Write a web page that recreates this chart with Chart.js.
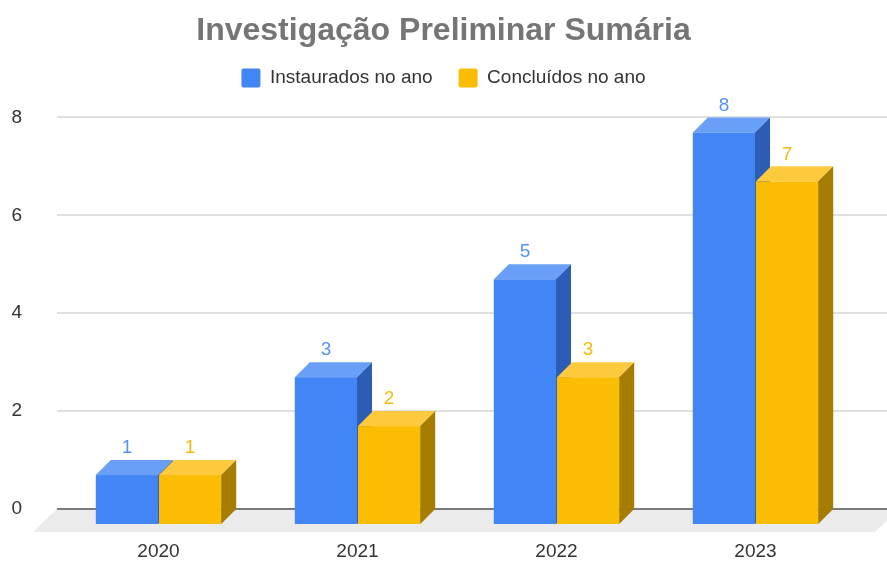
<!DOCTYPE html>
<html>
<head>
<meta charset="utf-8">
<script src="https://cdn.jsdelivr.net/npm/chart.js@4.4.1/dist/chart.umd.min.js"></script>
<style>
  html, body { margin: 0; padding: 0; background: #fff; }
  #grafico { display: block; }
</style>
</head>
<body>
<canvas id="grafico" width="887" height="562"></canvas>
<script>
// datos del grafico
const anos = ['2020', '2021', '2022', '2023']
const instaurados = [1, 3, 5, 8]
const concluidos = [1, 2, 3, 7]
const ticksY = [0, 2, 4, 6, 8]

const PROF = 15 // profundidad del efecto 3D
const FUENTE = '"Liberation Sans", Arial, sans-serif'

// colores: frente, tapa, lado, etiqueta
const coresAzul = { frente: '#4285f4', tapa: '#6a9ff7', lado: '#2d5cb5', texto: '#5592f5' }
const coresAmarelo = { frente: '#fbbc04', tapa: '#fcca3c', lado: '#a67c02', texto: '#f7b90a' }
const coresPorDataset = [coresAzul, coresAmarelo]

// espacio extra debajo de la leyenda
const pluginLeyenda = {
    id: 'espacioLeyenda',
    beforeInit(chart) {
        const fitOriginal = chart.legend.fit
        chart.legend.fit = function () {
            fitOriginal.call(this)
            this.height += 20
        }
    }
}

const plugin3d = {
    id: 'barras3d',
    beforeDatasetsDraw(chart) {
        const ctx = chart.ctx
        const area = chart.chartArea
        const y = chart.scales.y
        const y0 = y.getPixelForValue(0)
        // piso
        ctx.save()
        ctx.fillStyle = '#ebebeb'
        ctx.beginPath()
        ctx.moveTo(area.left - 2, y0)
        ctx.lineTo(chart.width + 12, y0)
        ctx.lineTo(chart.width - 12, y0 + 23)
        ctx.lineTo(area.left - 26, y0 + 23)
        ctx.closePath()
        ctx.fill()
        // lineas de grilla
        ticksY.forEach(v => {
            const py = Math.round(y.getPixelForValue(v))
            ctx.beginPath()
            ctx.moveTo(area.left - 2, py)
            ctx.lineTo(chart.width, py)
            if (v === 0) {
                ctx.strokeStyle = '#7b7b7b'
                ctx.lineWidth = 2
            } else {
                ctx.strokeStyle = '#d6d6d6'
                ctx.lineWidth = 1.5
            }
            ctx.stroke()
        })
        ctx.restore()
    },
    beforeDatasetDraw() {
        return false // las barras se dibujan a mano abajo
    },
    afterDatasetsDraw(chart) {
        const ctx = chart.ctx
        ctx.save()
        anos.forEach((ano, i) => {
            chart.data.datasets.forEach((ds, d) => {
                const el = chart.getDatasetMeta(d).data[i]
                const cores = coresPorDataset[d]
                const w = el.width
                const fl = el.x - w / 2
                const fr = el.x + w / 2
                const ft = el.y + PROF
                const fb = el.base + PROF

                // frente
                ctx.fillStyle = cores.frente
                ctx.fillRect(fl, ft, w, fb - ft)
                // tapa
                ctx.fillStyle = cores.tapa
                ctx.beginPath()
                ctx.moveTo(fl, ft)
                ctx.lineTo(fr, ft)
                ctx.lineTo(fr + PROF, ft - PROF)
                ctx.lineTo(fl + PROF, ft - PROF)
                ctx.closePath()
                ctx.fill()
                // lado
                ctx.fillStyle = cores.lado
                ctx.beginPath()
                ctx.moveTo(fr, ft)
                ctx.lineTo(fr + PROF, ft - PROF)
                ctx.lineTo(fr + PROF, fb - PROF)
                ctx.lineTo(fr, fb)
                ctx.closePath()
                ctx.fill()

                // valor
                ctx.fillStyle = cores.texto
                ctx.font = '19px ' + FUENTE
                ctx.textAlign = 'center'
                ctx.textBaseline = 'middle'
                ctx.fillText(ds.data[i], el.x, el.y - 12)
            })
        })
        ctx.restore()
    }
}

const grafico = new Chart(document.getElementById('grafico'), {
    type: 'bar',
    data: {
        labels: anos,
        datasets: [{
            label: 'Instaurados no ano',
            data: instaurados,
            backgroundColor: coresAzul.frente
        }, {
            label: 'Concluídos no ano',
            data: concluidos,
            backgroundColor: coresAmarelo.frente
        }]
    },
    options: {
        responsive: false,
        devicePixelRatio: 1,
        animation: false,
        categoryPercentage: 0.635,
        barPercentage: 0.985,
        layout: {
            padding: 0
        },
        plugins: {
            title: {
                display: true,
                text: 'Investigação Preliminar Sumária',
                color: '#757575',
                font: { family: FUENTE, size: 32, weight: 'bold' },
                padding: { top: 12, bottom: -8 }
            },
            legend: {
                position: 'top',
                labels: {
                    color: '#333',
                    font: { family: FUENTE, size: 19 },
                    boxWidth: 19,
                    boxHeight: 19,
                    padding: 26,
                    useBorderRadius: true,
                    borderRadius: 2
                }
            },
            tooltip: { enabled: false }
        },
        scales: {
            x: {
                afterFit: (s) => { s.height = 53 },
                grid: { display: false, drawTicks: false },
                border: { display: false },
                ticks: {
                    color: '#333',
                    font: { family: FUENTE, size: 19 },
                    padding: 31
                }
            },
            y: {
                min: 0,
                max: 8,
                afterFit: (s) => { s.width = 59 },
                grid: { display: false, drawTicks: false },
                border: { display: false },
                ticks: {
                    stepSize: 2,
                    color: '#333',
                    font: { family: FUENTE, size: 19 },
                    padding: 37
                }
            },
            // eje vacio a la derecha, solo reserva espacio
            yDer: {
                position: 'right',
                afterFit: (s) => { s.width = 32 },
                grid: { display: false, drawTicks: false },
                border: { display: false },
                ticks: { display: false }
            }
        }
    },
    plugins: [pluginLeyenda, plugin3d]
})
</script>
</body>
</html>
